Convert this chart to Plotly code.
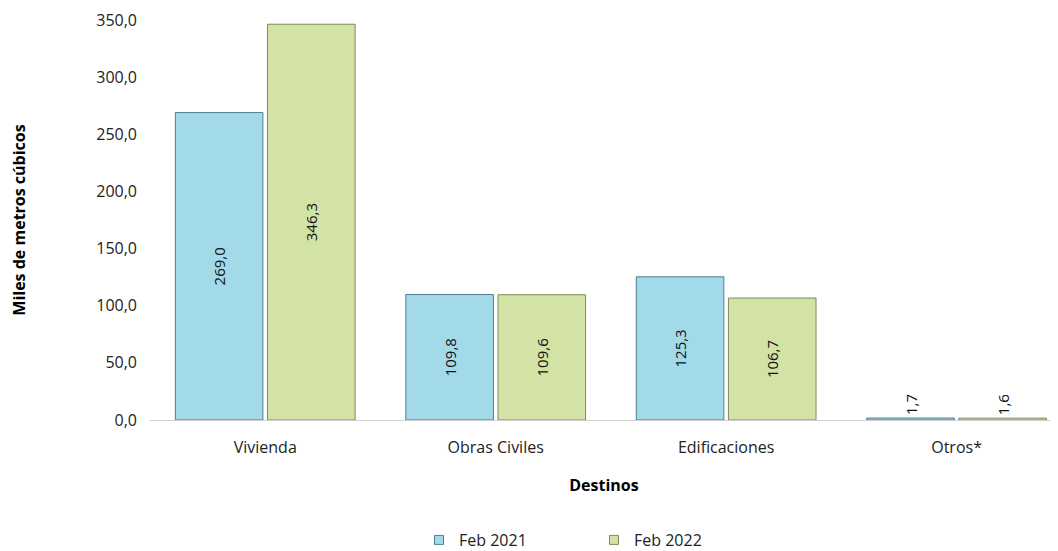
import plotly.graph_objects as go

categories = ["Vivienda", "Obras Civiles", "Edificaciones", "Otros*"]
feb2021 = [269.0, 109.8, 125.3, 1.7]
feb2022 = [346.3, 109.6, 106.7, 1.6]
series_names = ["Feb 2021", "Feb 2022"]
yticks = [0, 50, 100, 150, 200, 250, 300, 350]

def fmt(v):
    return f"{v:.1f}".replace(".", ",")

FONT = "Open Sans"
fig = go.Figure()
styles = [("#A3DAEA", "#4F7F8C"), ("#D3E3A6", "#7D8A5A")]
for name, vals, (col, edge) in zip(series_names, [feb2021, feb2022], styles):
    fig.add_trace(go.Bar(
        x=categories, y=vals, name=name, showlegend=False,
        marker=dict(color=col, line=dict(color=edge, width=1)),
        text=[fmt(v) for v in vals], textangle=-90,
        textposition="auto", insidetextanchor="middle",
        textfont=dict(family=FONT, size=15, color="#111111"),
        outsidetextfont=dict(family=FONT, size=15, color="#111111"),
        constraintext="none", cliponaxis=False,
    ))
for name, (col, edge) in zip(series_names, styles):
    fig.add_trace(go.Scatter(
        x=[None], y=[None], mode="markers", name=name,
        marker=dict(symbol="square", size=9, color=col, line=dict(color=edge, width=1)),
    ))

fig.update_layout(
    width=1050, height=543,
    margin=dict(l=142, r=0, t=12, b=131, autoexpand=False),
    paper_bgcolor="white", plot_bgcolor="white",
    barmode="group", bargap=0.2, bargroupgap=0.05,
    font=dict(family=FONT, size=16, color="#222222"),
    showlegend=True,
    legend=dict(orientation="h", x=0.489, xanchor="center", y=-0.3, yanchor="middle",
                font=dict(family=FONT, size=16), itemwidth=30, entrywidth=130,
                tracegroupgap=0),
)
fig.update_xaxes(
    range=[-0.5, 3.44], showline=True, linecolor="#D0D0D0", linewidth=1,
    ticks="", showgrid=False, automargin=False, ticklabelstandoff=13,
    title=dict(text="<b>Destinos</b>", font=dict(family=FONT, size=16, color="#000"), standoff=22),
    tickfont=dict(family=FONT, size=16, color="#222"),
)
fig.update_yaxes(
    range=[0, 350], tickvals=yticks, ticktext=[fmt(v) for v in yticks],
    showgrid=False, zeroline=False, showline=False,
    ticks="", automargin=False, ticklabelstandoff=12,
    title=dict(text="<b>Miles de metros cúbicos</b>", font=dict(family=FONT, size=16, color="#000"), standoff=75),
    tickfont=dict(family=FONT, size=16, color="#222"),
)
fig.write_html("out.html")
